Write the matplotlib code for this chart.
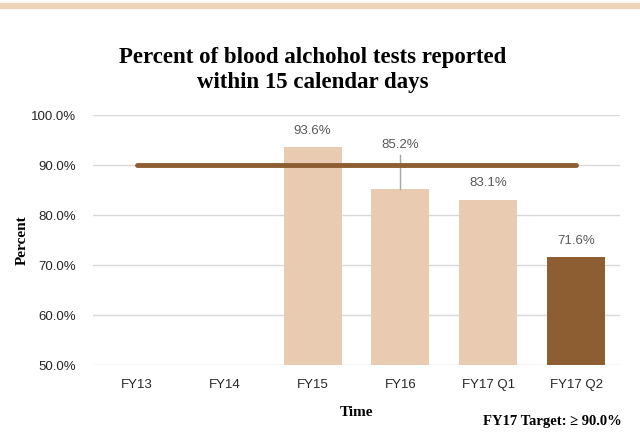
import numpy as np
import matplotlib
matplotlib.use("Agg")
import matplotlib.pyplot as plt
import matplotlib.patches as mpatches

# data
categories = ["FY13", "FY14", "FY15", "FY16", "FY17 Q1", "FY17 Q2"]
values = [np.nan, np.nan, 93.6, 85.2, 83.1, 71.6]
target = 90.0
yticks = [50, 60, 70, 80, 90, 100]

light = "#E8CBB0"
dark = "#8C5E31"
serif = "Liberation Serif"
sans = "Liberation Sans"

fig = plt.figure(figsize=(6.4, 4.33), dpi=100)
fig.patches.append(mpatches.Rectangle((0, 1 - 7.5 / 433), 1, 4.5 / 433, transform=fig.transFigure,
                                      color="#EFD3BA", zorder=0))

ax = fig.add_axes([93 / 640, 68 / 433, 527 / 640, 250 / 433])
x = np.arange(len(categories))
colors = [light] * (len(categories) - 1) + [dark]
ax.bar(x, values, width=0.66, color=colors, zorder=2, bottom=0)

# target line
ax.plot([x[0], x[-1]], [target, target], color=dark, lw=3.5, solid_capstyle="round", zorder=3)

# value labels
for i, v in enumerate(values):
    if np.isnan(v):
        continue
    if categories[i] == "FY16":
        ax.plot([i, i], [v, v + 6.8], color="#A6A6A6", lw=1, zorder=2.5)
        ax.text(i, v + 7.5, f"{v:.1f}%", ha="center", va="bottom", fontsize=9.5,
                color="#595959", family=sans)
    else:
        ax.text(i, v + 2, f"{v:.1f}%", ha="center", va="bottom", fontsize=9.5,
                color="#595959", family=sans)

ax.set_xlim(-0.5, len(categories) - 0.5)
ax.set_ylim(50, 100)
ax.set_yticks(yticks)
ax.set_yticklabels([f"{t:.1f}%" for t in yticks], fontsize=9.5, family=sans, color="#262626")
ax.set_xticks(x)
ax.set_xticklabels(categories, fontsize=9.5, family=sans, color="#262626")
ax.tick_params(axis="y", length=0, pad=12)
ax.tick_params(axis="x", length=0, pad=10)
ax.yaxis.grid(True, color="#D9D9D9", lw=1, zorder=0)
ax.set_axisbelow(True)
for s in ax.spines.values():
    s.set_visible(False)

ax.set_ylabel("Percent", fontsize=11, family=serif, fontweight="bold", labelpad=2)
ax.set_xlabel("Time", fontsize=11, family=serif, fontweight="bold", labelpad=11)

fig.text(313 / 640, 1 - 70 / 433, "Percent of blood alchohol tests reported\nwithin 15 calendar days",
         ha="center", va="center", fontsize=16.5, family=serif, fontweight="bold", linespacing=1.3)
fig.text(622 / 640, 1 - 422 / 433, "FY17 Target: \u2265 90.0%", ha="right", va="center",
         fontsize=10.5, family=serif, fontweight="bold")

fig.savefig("out.png", dpi=100)
